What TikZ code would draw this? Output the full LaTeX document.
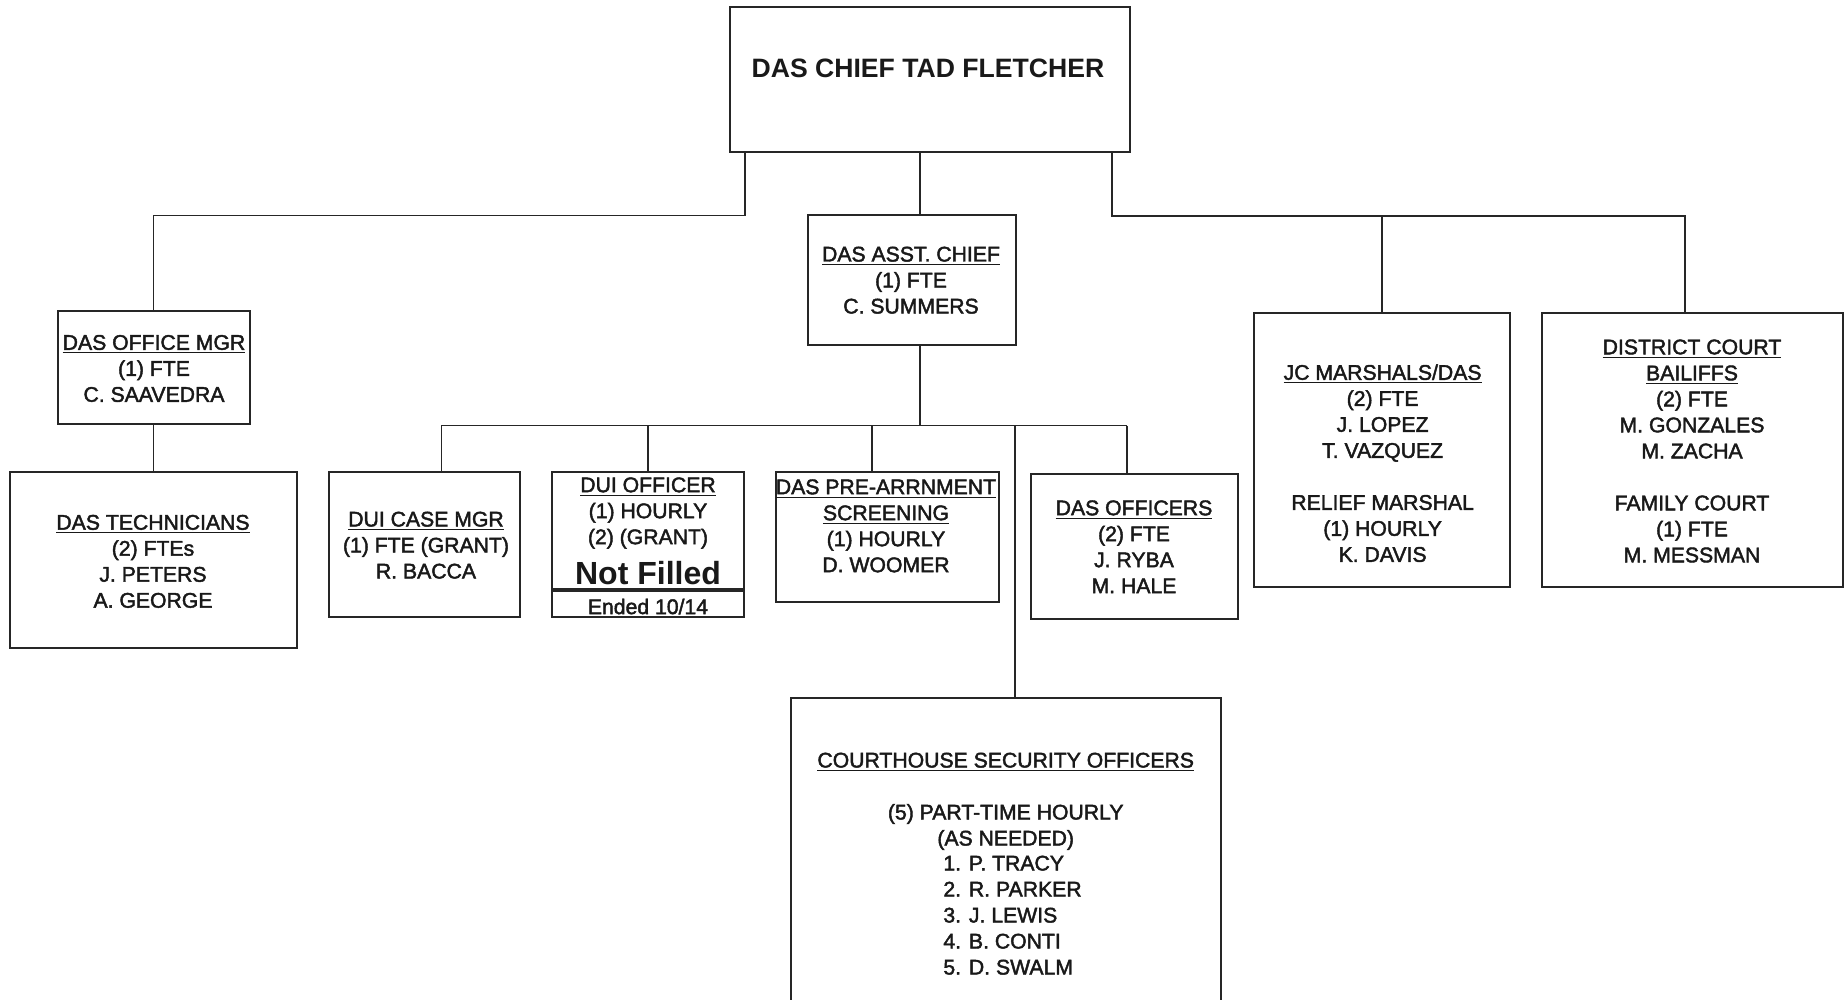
\documentclass[tikz,border=0pt]{standalone}
\usepackage{fontspec}
\setmainfont{Liberation Sans}
\newfontfamily\bodyfont{Liberation Sans}[FakeBold=2]
\begin{document}
\begin{tikzpicture}[x=0.5pt,y=-0.5pt,
  box/.style={draw=black!85, line width=1pt, rectangle, inner sep=0pt},
  conn/.style={draw=black!85, line width=0.8pt},
  txt/.style={inner sep=0pt, align=center, font=\bodyfont\fontsize{10.6}{13}\selectfont, text=black!90},
  txtl/.style={inner sep=0pt, align=left, font=\bodyfont\fontsize{10.6}{13}\selectfont, text=black!90}]
\useasboundingbox (0,0) rectangle (1845,1000);
\clip (0,0) rectangle (1845,1000);
\fill[white] (0,0) rectangle (1845,1000);

% boxes
\node[box, minimum width=200pt, minimum height=72.4pt] (chief) at (929.6,79.4) {};
\node[box, minimum width=103.55pt, minimum height=64.75pt] (asst) at (912,280) {};
\node[box, minimum width=95.9pt, minimum height=56.5pt] (office) at (153.6,367.5) {};
\node[box, minimum width=143.4pt, minimum height=88pt] (tech) at (153.6,560.3) {};
\node[box, minimum width=95.5pt, minimum height=72.2pt] (dcase) at (424.8,544.5) {};
\node[box, minimum width=95.75pt, minimum height=72.35pt] (duioff) at (648,544.6) {};
\node[box, minimum width=111.3pt, minimum height=64.6pt] (prearr) at (887.3,536.9) {};
\node[box, minimum width=103.65pt, minimum height=72.5pt] (dasoff) at (1134.2,546) {};
\node[box, minimum width=215.25pt, minimum height=171pt] (court) at (1005.8,869) {};
\node[box, minimum width=127.65pt, minimum height=136.75pt] (jc) at (1382,449.75) {};
\node[box, minimum width=150.6pt, minimum height=136.75pt] (district) at (1692.1,449.75) {};

% texts
\node[inner sep=0pt, font=\fontsize{13.3}{16}\selectfont\bfseries, text=black!90] (chieft) at (928,68) {DAS CHIEF TAD FLETCHER};
\node[txt] (asstt) at (911,282.3) {\strut\underline{DAS ASST. CHIEF}\\\strut (1) FTE\\\strut C. SUMMERS};
\node[txt] (officet) at (154,370.6) {\strut\underline{DAS OFFICE MGR}\\\strut (1) FTE\\\strut C. SAAVEDRA};
\node[txt] (techt) at (153,563.5) {\strut\underline{DAS TECHNICIANS}\\\strut (2) FTEs\\\strut J. PETERS\\\strut A. GEORGE};
\node[txt] (dcaset) at (426,547.3) {\strut\underline{DUI CASE MGR}\\\strut (1) FTE (GRANT)\\\strut R. BACCA};
\node[txt] (duifft) at (648,513) {\strut\underline{DUI OFFICER}\\\strut (1) HOURLY\\\strut (2) (GRANT)};
\node[inner sep=0pt, font=\fontsize{16}{19}\selectfont\bfseries, text=black!90] (notfilled) at (648,573.5) {Not Filled};
\node[inner sep=0pt, font=\bodyfont\fontsize{10.6}{13}\selectfont, text=black!90] (ended) at (648,606.5) {Ended 10/14};
\node[txt] (prearrt) at (886,528) {\strut\underline{DAS PRE-ARRNMENT}\\\strut\underline{SCREENING}\\\strut (1) HOURLY\\\strut D. WOOMER};
\node[txt] (dasofft) at (1134,549) {\strut\underline{DAS OFFICERS}\\\strut (2) FTE\\\strut J. RYBA\\\strut M. HALE};
\node[txt] (courtt) at (1005.7,801.3) {\strut\underline{COURTHOUSE SECURITY OFFICERS}\\\strut\\\strut (5) PART-TIME HOURLY\\\strut (AS NEEDED)};
\node[txtl, anchor=west] (courtl) at (943,917.3) {\strut 1. P. TRACY\\\strut 2. R. PARKER\\\strut 3. J. LEWIS\\\strut 4. B. CONTI\\\strut 5. D. SWALM};
\node[txt] (jct) at (1382.6,465.6) {\strut\underline{JC MARSHALS/DAS}\\\strut (2) FTE\\\strut J. LOPEZ\\\strut T. VAZQUEZ\\\strut\\\strut RELIEF MARSHAL\\\strut (1) HOURLY\\\strut K. DAVIS};
\node[txt] (districtt) at (1692,453.1) {\strut\underline{DISTRICT COURT}\\\strut\underline{BAILIFFS}\\\strut (2) FTE\\\strut M. GONZALES\\\strut M. ZACHA\\\strut\\\strut FAMILY COURT\\\strut (1) FTE\\\strut M. MESSMAN};

% separator in DUI officer box
\coordinate (sep) at (648,590);
\draw[line width=1.6pt, black!85] (duioff.west |- sep) -- (duioff.east |- sep);

% junction coordinates
\coordinate (jl) at (745,215.5);
\coordinate (m1) at (920,0);
\coordinate (jr) at (1112,216);
\coordinate (d1) at (1685,0);
\coordinate (bus) at (0,425.5);
\coordinate (b1) at (441.3,0);
\coordinate (b2) at (648,0);
\coordinate (b3) at (872,0);
\coordinate (b4) at (1015,0);
\coordinate (b5) at (1127,0);

% connectors
\draw[conn] (chief.south -| jl) -- (jl) -| (office.north);
\draw[conn] (chief.south -| m1) -- (asst.north -| m1);
\draw[conn] (chief.south -| jr) -- (jr) -- (jr -| d1) -- (district.north -| d1);
\draw[conn] (jr -| jc.north) -- (jc.north);
\draw[conn] (office.south) -- (tech.north);
\draw[conn] (asst.south -| m1) -- (bus -| m1);
\draw[conn] (bus -| b1) -- (bus -| b5);
\draw[conn] (bus -| b1) -- (dcase.north -| b1);
\draw[conn] (bus -| b2) -- (duioff.north -| b2);
\draw[conn] (bus -| b3) -- (prearr.north -| b3);
\draw[conn] (bus -| b4) -- (court.north -| b4);
\draw[conn] (bus -| b5) -- (dasoff.north -| b5);
\end{tikzpicture}
\end{document}
